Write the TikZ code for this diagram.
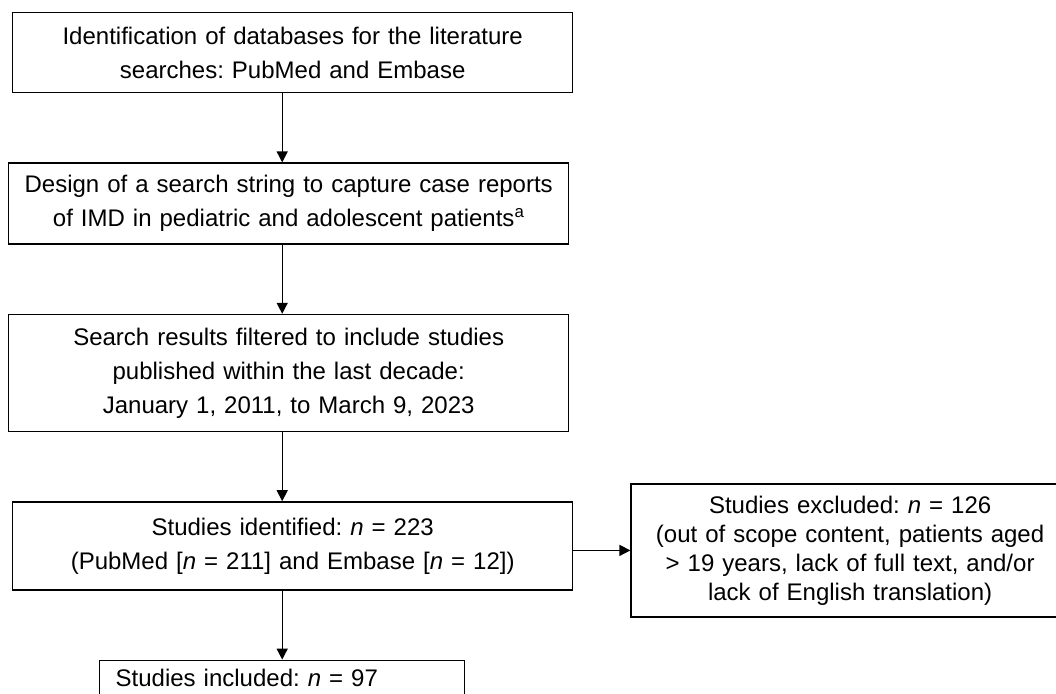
\documentclass[tikz,border=0pt]{standalone}
\usepackage{fontspec}
\setmainfont{Liberation Sans}
\frenchspacing
\usetikzlibrary{positioning,arrows.meta}
\tikzset{node distance=69pt, auto}
\tikzset{
  stagebox/.style={draw, line width=1.4pt, align=center, inner xsep=8pt,
    text width=544pt, minimum width=560pt,
    font=\fontsize{24pt}{34pt}\selectfont},
  exclbox/.style={draw, line width=1.4pt, align=center, inner xsep=8pt,
    text width=422pt, minimum width=438pt, minimum height=133pt,
    font=\fontsize{24pt}{29pt}\selectfont},
  flowarrow/.style={-{Triangle[length=11pt,width=11pt]}, line width=1.4pt},
}

\begin{document}
\begin{tikzpicture}
		\useasboundingbox (0,0) rectangle (1056pt,-693pt);
		\clip (0,0) rectangle (1056pt,-693pt);
		  \node (ident) 	[stagebox, minimum height=80pt, anchor=north west] at (12pt,-12pt)
		  	{Identification of databases for the literature\\ searches: PubMed and Embase};
		  \node (design) 	[stagebox, minimum height=81pt, below=of ident, xshift=-4pt]
		  	{Design of a search string to capture case reports\\ of IMD in pediatric and adolescent patients\textsuperscript{a}};
		  \node (filter) 	[stagebox, minimum height=117pt, below=of design]
		  	{Search results filtered to include studies\\ published within the last decade:\\ January 1, 2011, to March 9, 2023};
		  \node (found) 	[stagebox, minimum height=88pt, below=of filter, xshift=4pt]
		  	{Studies identified: \textit{n} = 223\\ (PubMed [\textit{n} = 211] and Embase [\textit{n} = 12])};
		  \node (incl) 	[draw, line width=1.4pt, below=of found, xshift=-10.5pt, align=left,
		  	text width=333pt, inner xsep=16pt, inner ysep=9pt, text height=17pt, text depth=40pt,
		  	font=\fontsize{24pt}{34pt}\selectfont]
		  	{Studies included: \textit{n} = 97};
		  \node (excl) 	[exclbox, right=57pt of found, yshift=-4.5pt]
		  	{Studies excluded: \textit{n} = 126\\ (out of scope content, patients aged\\ > 19 years, lack of full text, and/or\\ lack of English translation)};
		  \draw[flowarrow]	(ident.south -| incl)	to (design.north -| incl);
		  \draw[flowarrow]	(design.south -| incl)	to (filter.north -| incl);
		  \draw[flowarrow]	(filter.south -| incl)	to (found.north -| incl);
		  \draw[flowarrow]	(found.south -| incl)	to (incl.north);
		  \draw[flowarrow]	(found.east |- excl)	to (excl.west);
\end{tikzpicture}
\end{document}
